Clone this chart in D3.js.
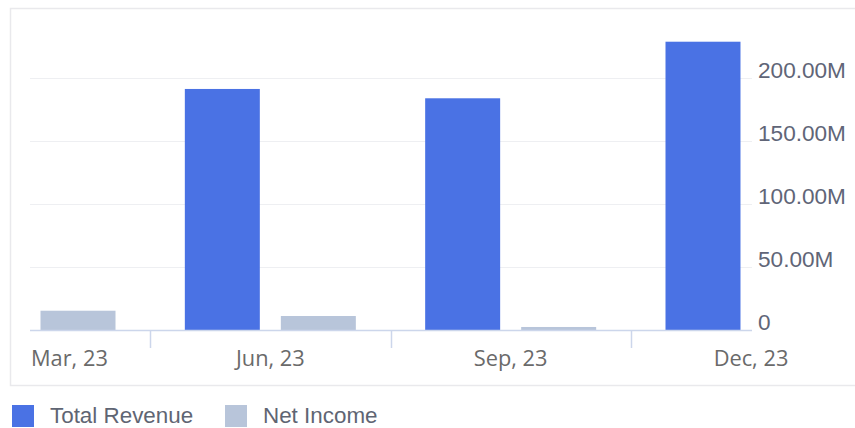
<!DOCTYPE html>
<html>
<head>
<meta charset="utf-8">
<script src="https://cdn.jsdelivr.net/npm/d3@7"></script>
<style>
  html, body { margin: 0; padding: 0; background: #ffffff; }
  svg { display: block; }
</style>
</head>
<body>
<svg id="chart" width="855" height="428"></svg>
<script>
// Quarterly figures, in millions of dollars
const quarters = ["Mar, 23", "Jun, 23", "Sep, 23", "Dec, 23"];
const totalRevenue = [null, 191.3, 183.9, 228.8];
const netIncome = [15.3, 11.1, 2.4, null];
const seriesNames = ["Total Revenue", "Net Income"];
const seriesColors = ["#4a72e4", "#b8c5da"];
const yTicks = [0, 50, 100, 150, 200];

const svg = d3.select("#chart");
const plot = { left: 30, right: 752, top: 15, bottom: 330 };

// Card frame around the chart
svg.append("rect")
  .attr("x", 10.5).attr("y", 8.5)
  .attr("width", 860).attr("height", 377)
  .attr("fill", "#ffffff")
  .attr("stroke", "#e9e9ec").attr("stroke-width", 1.5);

const x = d3.scalePoint().domain(quarters).range([30, 751]);
const xInner = d3.scaleBand().domain(seriesNames).range([-85.5, 85.5]).paddingInner(0.219);
const y = d3.scaleLinear().domain([0, 250]).range([plot.bottom, plot.bottom - 1.26 * 250]);

svg.append("defs").append("clipPath").attr("id", "plotClip")
  .append("rect")
  .attr("x", plot.left).attr("y", 0)
  .attr("width", plot.right - plot.left).attr("height", plot.bottom + 1);

// Horizontal grid lines
svg.append("g").selectAll("line").data(yTicks.filter(d => d > 0)).join("line")
  .attr("x1", plot.left).attr("x2", plot.right)
  .attr("y1", d => Math.round(y(d)) + 0.5).attr("y2", d => Math.round(y(d)) + 0.5)
  .attr("stroke", "#eeeff2").attr("stroke-width", 1);

// Bars
const rows = quarters.map((q, i) => ({ q, values: [totalRevenue[i], netIncome[i]] }));
const barLayer = svg.append("g").attr("clip-path", "url(#plotClip)");
rows.forEach(r => {
  r.values.forEach((v, k) => {
    if (v == null) return;
    barLayer.append("rect")
      .attr("x", x(r.q) + xInner(seriesNames[k]))
      .attr("width", xInner.bandwidth())
      .attr("y", y(v))
      .attr("height", y(0) - y(v))
      .attr("fill", seriesColors[k]);
  });
});

// X axis line and category separators
svg.append("line")
  .attr("x1", plot.left).attr("x2", plot.right)
  .attr("y1", plot.bottom + 0.5).attr("y2", plot.bottom + 0.5)
  .attr("stroke", "#ccd6eb").attr("stroke-width", 1.5);

const separators = d3.pairs(quarters).map(([a, b]) => (x(a) + x(b)) / 2);
svg.append("g").selectAll("line").data(separators).join("line")
  .attr("x1", d => Math.round(d) + 0.5).attr("x2", d => Math.round(d) + 0.5)
  .attr("y1", plot.bottom).attr("y2", plot.bottom + 18)
  .attr("stroke", "#ccd6eb").attr("stroke-width", 1.5);

// Category labels, kept inside the plot's left edge
const xLabels = svg.append("g").selectAll("text").data(quarters).join("text")
  .attr("y", 366)
  .attr("font-family", "'Open Sans', 'Noto Sans', sans-serif")
  .attr("font-size", 21.8)
  .attr("fill", "#6a6a6a")
  .text(d => d);
xLabels.each(function(d) {
  const w = this.getComputedTextLength();
  const start = Math.max(x(d) - w / 2, plot.left + 1);
  d3.select(this).attr("x", start);
});

// Value axis on the right
svg.append("g").selectAll("text").data(yTicks).join("text")
  .attr("x", 758)
  .attr("y", d => y(d))
  .attr("font-family", "'Liberation Sans', Arial, sans-serif")
  .attr("font-size", 22.6)
  .attr("fill", "#606577")
  .text(d => d === 0 ? "0" : d3.format(".2f")(d) + "M");

// Legend
const legendX = [12, 225];
const legend = svg.append("g").selectAll("g").data(seriesNames).join("g")
  .attr("transform", (d, i) => `translate(${legendX[i]},405)`);
legend.append("rect")
  .attr("width", 22).attr("height", 22)
  .attr("fill", (d, i) => seriesColors[i]);
legend.append("text")
  .attr("x", 38).attr("y", 18)
  .attr("font-family", "'Liberation Sans', Arial, sans-serif")
  .attr("font-size", 22.4)
  .attr("fill", "#5f6573")
  .text(d => d);
</script>
</body>
</html>
